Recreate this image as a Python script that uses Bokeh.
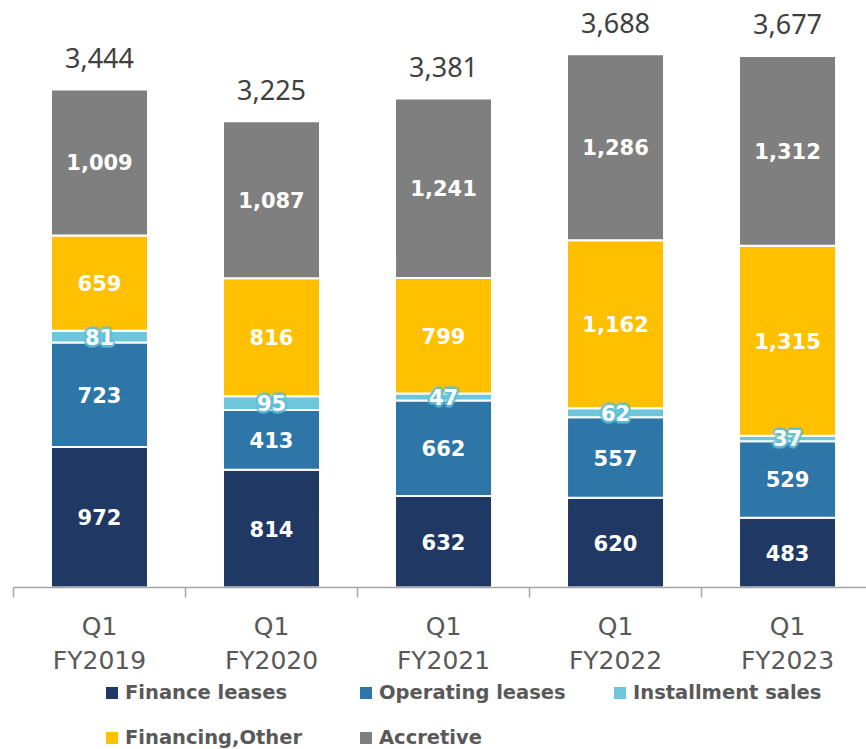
import numpy as np
from bokeh.plotting import figure
from bokeh.layouts import column
from bokeh.models import ColumnDataSource, FixedTicker, Legend, LegendItem
from bokeh.core.properties import value
from bokeh.embed import file_html
from bokeh.resources import INLINE

# ---- data ----
periods = ["Q1\nFY2019", "Q1\nFY2020", "Q1\nFY2021", "Q1\nFY2022", "Q1\nFY2023"]
finance_leases = [972, 814, 632, 620, 483]
operating_leases = [723, 413, 662, 557, 529]
installment_sales = [81, 95, 47, 62, 37]
financing_other = [659, 816, 799, 1162, 1315]
accretive = [1009, 1087, 1241, 1286, 1312]
totals = [3444, 3225, 3381, 3688, 3677]

series_names = ["Finance leases", "Operating leases", "Installment sales", "Financing,Other", "Accretive"]
series_vals = [finance_leases, operating_leases, installment_sales, financing_other, accretive]
colors = ["#203864", "#2E75A8", "#6EC6DA", "#FFC000", "#7F7F7F"]

W = 866
H_MAIN, H_LEG = 680, 69
FRAME_BOTTOM = 587
ppu = 0.1446
YMAX = FRAME_BOTTOM / ppu

x = np.arange(len(periods))

p = figure(width=W, height=H_MAIN, output_backend="svg", toolbar_location=None,
           x_range=(-0.5, 4.459), y_range=(0, YMAX), y_axis_location=None,
           min_border_left=13, min_border_right=0, min_border_top=0,
           min_border_bottom=H_MAIN - FRAME_BOTTOM)
p.outline_line_color = None
p.xgrid.visible = False
p.ygrid.visible = False

# stacked bars
bottom = np.zeros(len(x))
renderers = []
for name, vals, col in zip(series_names, series_vals, colors):
    v = np.array(vals, dtype=float)
    src = ColumnDataSource(dict(x=x, bottom=bottom.copy(), top=bottom + v, mid=bottom + v / 2,
                                lab=[f"{int(a):,}" for a in v]))
    r = p.vbar(x="x", bottom="bottom", top="top", width=0.564, source=src,
               fill_color=col, line_color="white", line_width=2)
    renderers.append((name, r, src))
    bottom = bottom + v

# segment labels
for name, r, src in renderers:
    if name == "Installment sales":
        for dx, dy in [(-2, 0), (2, 0), (0, -2), (0, 2), (-2, -2), (2, 2), (-2, 2), (2, -2),
                       (-3, 0), (3, 0), (0, -3), (0, 3)]:
            p.text(x="x", y="mid", text="lab", source=src, x_offset=dx, y_offset=dy,
                   text_font=value("DejaVu Sans"), text_font_style="bold", text_font_size="21px",
                   text_color="#62BFD6", text_alpha=0.5, text_align="center", text_baseline="middle")
    p.text(x="x", y="mid", text="lab", source=src,
           text_font=value("DejaVu Sans"), text_font_style="bold", text_font_size="21px",
           text_color="white", text_align="center", text_baseline="middle")

# totals
tsrc = ColumnDataSource(dict(x=x, y=np.array(totals) + 31.5 / ppu, lab=[f"{t:,}" for t in totals]))
p.text(x="x", y="y", text="lab", source=tsrc, text_font=value("Noto Sans"),
       text_font_size="27px", text_color="#404040", text_align="center", text_baseline="middle")

# x axis
xa = p.xaxis[0]
xa.ticker = FixedTicker(ticks=list(x), minor_ticks=[i - 0.5 for i in range(len(x) + 1)])
xa.major_label_overrides = {int(i): lab for i, lab in zip(x, periods)}
xa.major_tick_out = 0
xa.major_tick_in = 0
xa.minor_tick_out = 10
xa.minor_tick_in = 0
xa.minor_tick_line_color = "#A6A6A6"
xa.minor_tick_line_width = 1.5
xa.axis_line_color = "#A6A6A6"
xa.axis_line_width = 1.5
xa.major_label_standoff = 14
xa.major_label_text_font = "DejaVu Sans"
xa.major_label_text_font_size = "25px"
xa.major_label_text_color = "#595959"
xa.major_label_text_line_height = 1.2

# legend figure
pl = figure(width=W, height=H_LEG, output_backend="svg", toolbar_location=None,
            x_range=(0, 1), y_range=(0, 1), x_axis_location=None, y_axis_location=None,
            min_border_left=0, min_border_right=0, min_border_top=0, min_border_bottom=0)
pl.outline_line_color = None
pl.xgrid.visible = False
pl.ygrid.visible = False
leg_items = []
for name, col in zip(series_names, colors):
    rr = pl.vbar(x=[10], bottom=[0], top=[1], width=0.1, fill_color=col, line_color=None)
    leg_items.append(LegendItem(label=name, renderers=[rr]))

legend = Legend(items=leg_items, orientation="horizontal", ncols=3, location=(91, 0),
                glyph_width=15, glyph_height=15, label_standoff=6, label_width=211,
                label_text_font="DejaVu Sans", label_text_font_style="bold",
                label_text_font_size="19.5px", label_text_color="#595959",
                label_height=23, spacing=22, padding=0, margin=0,
                border_line_alpha=0, background_fill_alpha=0)
pl.add_layout(legend, "center")

layout = column(p, pl, spacing=0)
open("out.html", "w").write(file_html(layout, INLINE))
